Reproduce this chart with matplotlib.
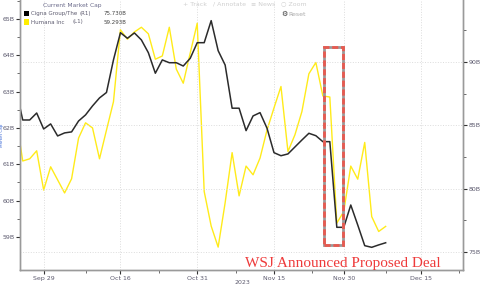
import matplotlib.pyplot as plt
from matplotlib.patches import Rectangle
from matplotlib.ticker import FixedLocator, FuncFormatter

### DATA (trading-day index, Sep 29 = 0)
days = list(range(-4, 50))
humana = [62.36, 61.09, 61.15, 61.37, 60.29, 60.93, 60.57, 60.21, 60.60, 61.72,
          62.14, 62.00, 61.15, 61.94, 62.72, 64.70, 64.44, 64.64, 64.77, 64.59,
          63.89, 63.98, 64.77, 63.62, 63.23, 64.06, 64.88, 60.25, 59.30, 58.72,
          59.94, 61.32, 60.13, 60.95, 60.71, 61.17, 61.94, 62.55, 63.14, 61.35,
          61.81, 62.45, 63.49, 63.80, 62.88, 62.85, 59.38, 59.70, 60.95, 60.59,
          61.60, 59.56, 59.15, 59.29]
cigna = [87.95, 85.42, 85.42, 85.97, 84.71, 85.11, 84.16, 84.40, 84.48, 85.34,
         85.82, 86.53, 87.16, 87.59, 90.16, 92.31, 91.87, 92.29, 91.74, 90.73,
         89.11, 90.16, 89.94, 89.94, 89.68, 90.29, 91.52, 91.52, 93.26, 90.89,
         89.76, 86.35, 86.35, 84.58, 85.74, 86.00, 84.77, 82.84, 82.60, 82.74,
         83.29, 83.84, 84.37, 84.18, 83.71, 83.71, 76.95, 76.95, 78.71, 77.13,
         75.50, 75.37, 75.56, 75.73]
tick_days = [0, 11, 22, 33, 43, 54]
tick_labels = ['Sep 29', 'Oct 16', 'Oct 31', 'Nov 15', 'Nov 30', 'Dec 15']
minor_days = [6, 16.5, 27.5, 38.5, 49, 59.5]
left_ticks = [59, 60, 61, 62, 63, 64, 65]
right_ticks = [75, 80, 85, 90]
deal_days = (40.2, 42.9)
deal_vals = (75.55, 91.2)

W, H = 485, 288
def fx(x):
    return x / W
def fy(y):
    return 1 - y / H

lbl = '#5c5a6e'
fig = plt.figure(figsize=(4.85, 2.88), dpi=100)
ax = fig.add_axes([fx(20), fy(270), fx(463) - fx(20), fy(0) - fy(270)])
ax2 = ax.twinx()

ax.plot(days, humana, color='#ffeb1a', lw=1.0)
ax2.plot(days, cigna, color='#2b2b2b', lw=1.1)

ax.set_xlim(-3.39, 60.08)
ax.set_ylim(58.09, 65.52)
ax2.set_ylim(73.58, 94.89)

ax.xaxis.set_major_locator(FixedLocator(tick_days))
ax.set_xticklabels(tick_labels)
ax.xaxis.set_minor_locator(FixedLocator(minor_days))
ax.yaxis.set_major_locator(FixedLocator(left_ticks))
ax.yaxis.set_minor_locator(FixedLocator([v + 0.5 for v in left_ticks]))
ax.yaxis.set_major_formatter(FuncFormatter(lambda v, p: f'{v:.0f}B'))
ax2.yaxis.set_major_locator(FixedLocator(right_ticks))
ax2.yaxis.set_minor_locator(FixedLocator([v + 2.5 for v in right_ticks]))
ax2.yaxis.set_major_formatter(FuncFormatter(lambda v, p: f'{v:.0f}B'))

for a in (ax, ax2):
    a.tick_params(which='major', length=3, width=0.8, color='#333', labelsize=4.5,
                  labelcolor=lbl, pad=1.0)
    a.tick_params(which='minor', length=2, width=0.6, color='#555')
    for s in a.spines.values():
        s.set_color('#9a9a9a')
        s.set_linewidth(1.0)
    a.spines['top'].set_visible(False)
ax2.patch.set_visible(False)

ax.grid(axis='x', which='major', color='#dcdcdc', ls=':', lw=0.7)
ax2.grid(axis='y', which='major', color='#dcdcdc', ls=':', lw=0.7)
ax.set_axisbelow(True)

# deal box
for ls, col in [('-', '#9a9a9a'), ((0, (2.2, 1.0)), '#e85a50')]:
    ax2.add_patch(Rectangle((deal_days[0], deal_vals[0]), deal_days[1] - deal_days[0],
                            deal_vals[1] - deal_vals[0], fill=False, ec=col, lw=2.0,
                            ls=ls, zorder=5))

fig.text(fx(245), fy(263), 'WSJ Announced Proposed Deal', family='Liberation Serif',
         size=11, color='#ee3b3b', va='center', ha='left')
fig.text(fx(242), fy(282), '2023', size=4.5, color=lbl, ha='center', va='center')
fig.text(fx(1.6), fy(135), 'Market Cap', size=3.0, color='#3d6ad6', rotation=90,
         ha='center', va='center')

# legend
fig.text(fx(72), fy(6), 'Current Market Cap', size=4.3, color='#6a6a8a', ha='center', va='center')
rows = [('#000000', 'Cigna Group/The', '(R1)', '75.730B', 13.5, 80),
        ('#ffee00', 'Humana Inc', '(L1)', '59.293B', 22, 73)]
for col, name, side, val, y, sx in rows:
    fig.patches.append(Rectangle((fx(24), fy(y + 2.5)), fx(5), 5 / H, fc=col, ec='none',
                                 transform=fig.transFigure, figure=fig))
    fig.text(fx(31), fy(y), name, size=4.0, color=lbl, va='center')
    fig.text(fx(sx), fy(y), side, size=4.0, color=lbl, va='center')
    fig.text(fx(126), fy(y), val, size=4.0, color='#444', va='center', ha='right')

# toolbar
tb = '#cfcfcf'
for x, s in [(183, '+ Track'), (213, '/ Annotate'), (251, '≡ News'), (281, '○ Zoom')]:
    fig.text(fx(x), fy(4), s, size=4.5, color=tb, va='center')
fig.text(fx(281), fy(14), '⚙', size=5, color='#333', va='center')
fig.text(fx(288), fy(14), 'Reset', size=4.5, color='#aaaaaa', va='center')

fig.savefig('out.png', dpi=100)
